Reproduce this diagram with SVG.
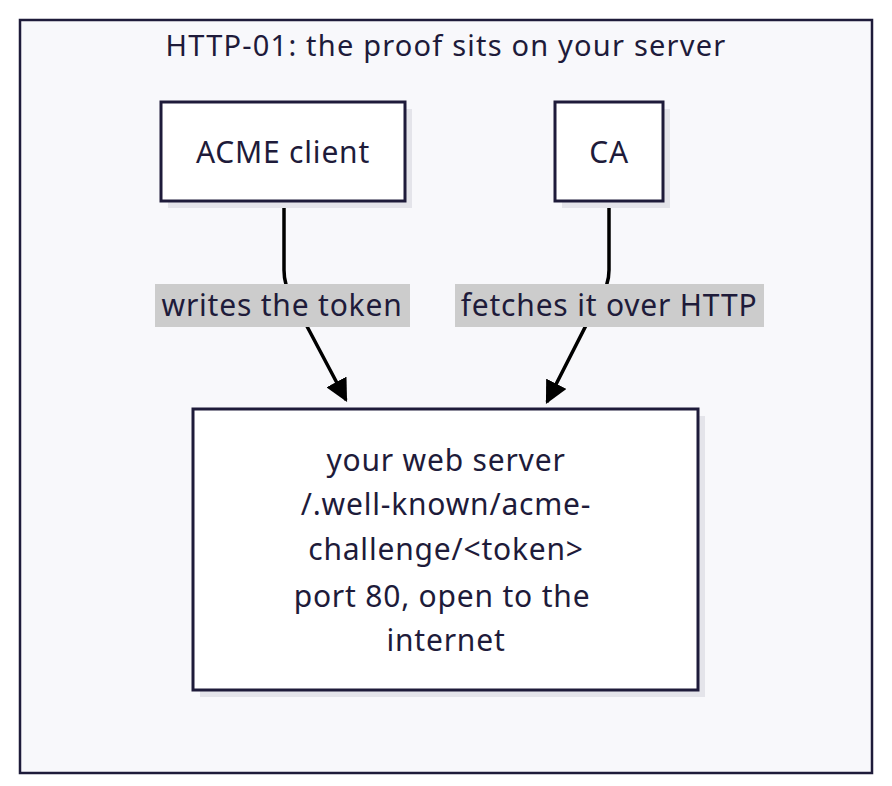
<svg xmlns="http://www.w3.org/2000/svg" width="892" height="786" viewBox="0 0 892 786">
<defs>
<style>
text{font-family:"Noto Sans","Liberation Sans",sans-serif;fill:#1e1b3a;text-anchor:middle;dominant-baseline:central;font-size:30px;letter-spacing:0.8px}
.node{fill:#fff;stroke:#1e1b3a;stroke-width:3}
.sh{fill:#e4e4ea}
.edge{fill:none;stroke:#000;stroke-width:3.5}
.lbl{fill:#cccccc}
</style>
<marker id="ah" viewBox="0 0 10 10" refX="9" refY="5" markerWidth="6.5" markerHeight="6.5" orient="auto-start-reverse" markerUnits="strokeWidth">
<path d="M0,0 L10,5 L0,10 z" fill="#000"/>
</marker>
</defs>
<rect width="892" height="786" fill="#fff"/>
<g id="frame">
<rect x="20" y="20" width="852" height="753" fill="#f8f8fb" stroke="#1e1b3a" stroke-width="2.5"/>
<text x="446" y="44" style="font-size:29px;letter-spacing:1.2px">HTTP-01: the proof sits on your server</text>
</g>
<g id="edges">
<path class="edge" d="M284,202 V270 Q284,285 292,298 L346,400" marker-end="url(#ah)"/>
<path class="edge" d="M609,202 V270 Q609,285 600,298 L547,402" marker-end="url(#ah)"/>
<rect class="lbl" x="155" y="284" width="255" height="43"/>
<text x="282" y="304">writes the token</text>
<rect class="lbl" x="455" y="284" width="309" height="43"/>
<text x="609" y="304">fetches it over HTTP</text>
</g>
<g id="acme">
<rect class="sh" x="168" y="109" width="244" height="99"/>
<rect class="node" x="161" y="102" width="244" height="99"/>
<text x="283" y="151">ACME client</text>
</g>
<g id="ca">
<rect class="sh" x="562" y="109" width="108" height="99"/>
<rect class="node" x="555" y="102" width="108" height="99"/>
<text x="609" y="151">CA</text>
</g>
<g id="server">
<rect class="sh" x="200" y="416" width="505" height="281"/>
<rect class="node" x="193" y="409" width="505" height="281"/>
<text x="446" y="459">your web server</text>
<text x="446" y="503">/.well-known/acme-</text>
<text x="446" y="548">challenge/&lt;token&gt;</text>
<text x="442" y="595">port 80, open to the</text>
<text x="446" y="639">internet</text>
</g>
</svg>
